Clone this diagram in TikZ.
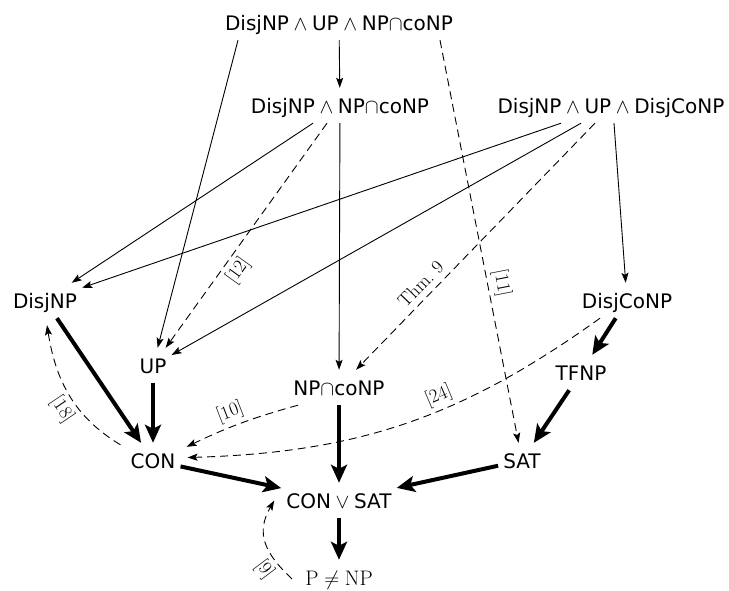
\documentclass[tikz,border=0pt]{standalone}
\usepackage{fontspec}
\newfontfamily\dv{DejaVu Sans}
\usetikzlibrary{arrows.meta}
\begin{document}
\begin{tikzpicture}[x=1pt,y=1pt,
  cls/.style={font=\dv\fontsize{20}{24}\selectfont, inner sep=5pt, text height=20pt, text depth=5pt, anchor=base},
  lab/.style={font=\fontsize{19}{22}\selectfont, sloped, inner sep=4pt},
  thinarr/.style={line width=0.9pt, -{Stealth[length=10pt,width=7pt,inset=2pt]}},
  dasharr/.style={line width=0.9pt, dash pattern=on 8pt off 5pt, -{Stealth[length=10pt,width=7pt,inset=2pt]}},
  thickarr/.style={line width=4pt, -{Stealth[length=18pt,width=16pt,inset=4pt]}}]
\useasboundingbox (0,0) rectangle (729,-590);
\node[cls] (t0) at (339,-30) {DisjNP${}\wedge{}$UP${}\wedge{}$NP$\cap$coNP};
\node[cls] (t1) at (340,-113) {DisjNP${}\wedge{}$NP$\cap$coNP};
\node[cls] (t2) at (611,-113) {DisjNP${}\wedge{}$UP${}\wedge{}$DisjCoNP};
\node[cls] (DisjNP) at (45,-308) {DisjNP};
\node[cls] (DisjCoNP) at (627,-308) {DisjCoNP};
\node[cls] (UP) at (153,-373) {UP};
\node[cls] (TFNP) at (581,-380) {TFNP};
\node[cls] (NPc) at (339,-395) {NP$\cap$coNP};
\node[cls] (CON) at (153,-468) {CON};
\node[cls] (SAT) at (522,-468) {SAT};
\node[cls] (CV) at (339,-508) {CON${}\vee{}$SAT};
\node[cls, font=\fontsize{21}{24}\selectfont] (PNP) at (339,-585) {$\mathrm{P}\neq\mathrm{NP}$};

\draw[thinarr] (t0) -- (t1);
\draw[thinarr] ([xshift=-101pt]t0.south) -- (UP);
\draw[dasharr] ([xshift=101pt]t0.south) -- node[lab,above,pos=0.61]{[11]} (SAT);
\draw[thinarr] ([xshift=-27pt]t1.south) -- (DisjNP);
\draw[dasharr] ([xshift=-13pt]t1.south) -- node[lab,below,pos=0.62]{[12]} (UP);
\draw[thinarr] (t1) -- (NPc);
\draw[thinarr] ([xshift=-50pt]t2.south) -- (DisjNP);
\draw[thinarr] ([xshift=-30pt]t2.south) -- (UP);
\draw[dasharr] ([xshift=-16pt]t2.south) -- node[lab,above,pos=0.69,inner sep=6pt]{Thm.~9} (NPc);
\draw[thinarr] ([xshift=3pt]t2.south) -- (DisjCoNP);

\draw[thickarr] (DisjNP) -- (CON);
\draw[thickarr] (UP) -- (CON);
\draw[thickarr] (DisjCoNP) -- (TFNP);
\draw[thickarr] (TFNP) -- (SAT);
\draw[thickarr] (CON) -- (CV);
\draw[thickarr] (NPc) -- (CV);
\draw[thickarr] (SAT) -- (CV);
\draw[thickarr] (CV) -- (PNP);

\draw[dasharr] ([xshift=-41pt]NPc.south) to[bend right=5] node[lab,above,pos=0.56]{[10]} ([xshift=6pt,yshift=-4pt]CON.north east);
\draw[dasharr] ([xshift=-27pt]DisjCoNP.south) to[bend left=17] node[lab,above,pos=0.4]{[24]} ([xshift=7pt,yshift=3pt]CON.east);
\draw[dasharr] ([xshift=-5pt,yshift=-2pt]CON.north west) to[out=149,in=279] node[lab,below,pos=0.44]{[18]} ([xshift=2pt,yshift=-7pt]DisjNP.south);
\draw[dasharr] ([xshift=-8pt,yshift=-1.5pt]PNP.west) to[out=137,in=240,looseness=1.2] node[lab,below,pos=0.24]{[9]} ([xshift=-7pt]CV.west);
\end{tikzpicture}
\end{document}
